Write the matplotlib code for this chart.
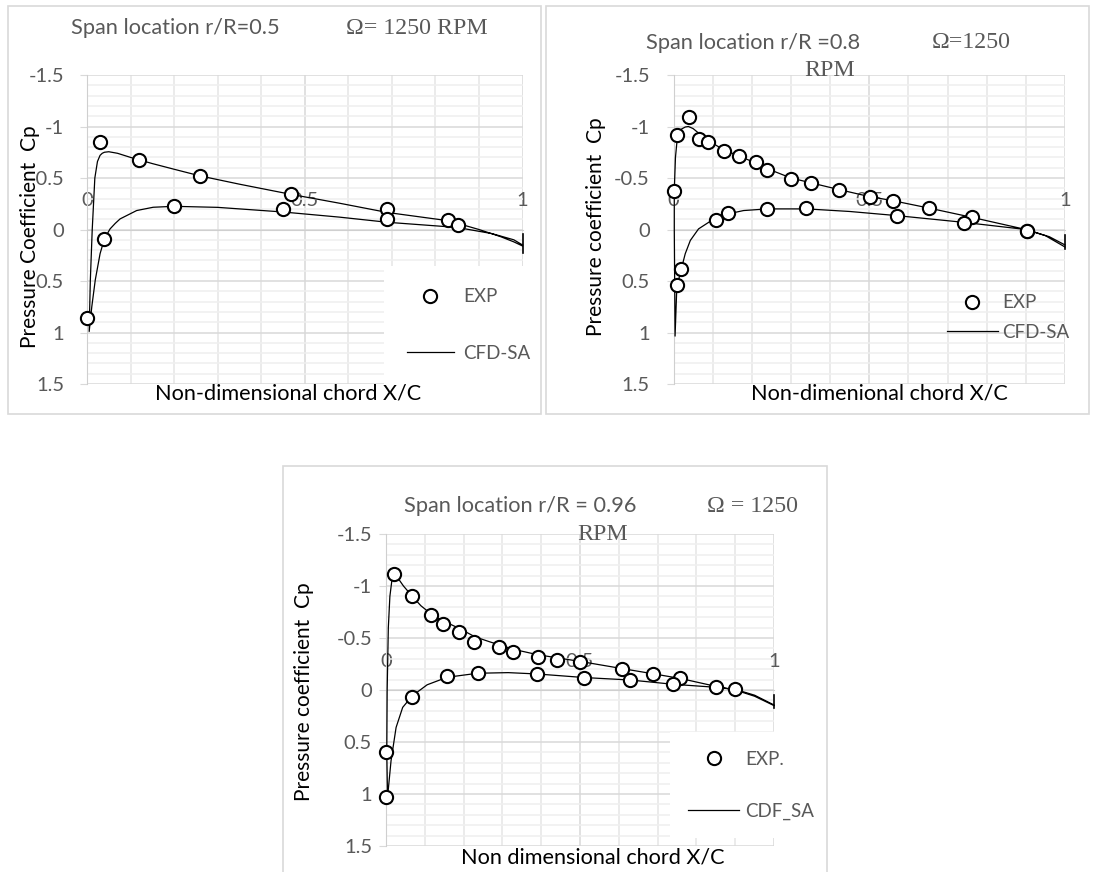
"""Cp ao longo da corda em três seções da pá (r/R = 0.5, 0.8, 0.96), EXP x CFD-SA."""

import matplotlib
matplotlib.use("Agg")
import matplotlib.pyplot as plt
from matplotlib.patches import Rectangle
from matplotlib.ticker import MultipleLocator, FuncFormatter

plt.rcParams["font.family"] = ["Lato", "DejaVu Sans"]
plt.rcParams["axes.unicode_minus"] = False

W, H = 1094, 872
GRAY = "#595959"

# --- r/R = 0.5 ---
exp1_x = [0.0, 0.030, 0.040, 0.119, 0.199, 0.259, 0.451, 0.469, 0.690, 0.690, 0.830, 0.851]
exp1_cp = [0.855, -0.852, 0.09, -0.674, -0.232, -0.521, -0.197, -0.34, -0.197, -0.10, -0.09, -0.039]
cfd1_up_x = [0.005, 0.0076, 0.012, 0.018, 0.024, 0.03, 0.035, 0.04, 0.05, 0.07, 0.1, 0.15, 0.2,
             0.26, 0.35, 0.47, 0.58, 0.69, 0.76, 0.83, 0.9, 0.95, 0.98, 1.0]
cfd1_up_cp = [0.99, 0.5, 0.0, -0.5, -0.66, -0.72, -0.74, -0.75, -0.755, -0.74, -0.70, -0.64, -0.585,
              -0.52, -0.44, -0.34, -0.255, -0.165, -0.125, -0.085, 0.0, 0.07, 0.12, 0.16]
cfd1_lo_x = [0.005, 0.011, 0.019, 0.03, 0.04, 0.053, 0.065, 0.076, 0.114, 0.152, 0.2, 0.3, 0.45,
             0.58, 0.69, 0.85, 0.93, 0.98, 1.0]
cfd1_lo_cp = [0.99, 0.75, 0.49, 0.235, 0.09, -0.006, -0.06, -0.103, -0.184, -0.216, -0.225, -0.215, -0.17,
              -0.12, -0.07, -0.02, 0.04, 0.1, 0.15]
te1_cp = [0.04, 0.23]

# --- r/R = 0.8 ---
exp2_x = [0.0, 0.0085, 0.039, 0.066, 0.089, 0.128, 0.168, 0.21, 0.238, 0.30, 0.35, 0.422, 0.501,
          0.561, 0.652, 0.762, 0.904,
          0.0085, 0.019, 0.109, 0.139, 0.238, 0.339, 0.571, 0.742, 0.904]
exp2_cp = [-0.377, -0.916, -1.097, -0.877, -0.852, -0.765, -0.716, -0.652, -0.581, -0.489, -0.456, -0.388, -0.317,
           -0.275, -0.204, -0.117, 0.013,
           0.542, 0.381, -0.094, -0.165, -0.2, -0.204, -0.133, -0.065, 0.016]
cfd2_up_x = [0.004, 0.003, 0.002, 0.002, 0.005, 0.01, 0.018, 0.03, 0.038, 0.05, 0.066, 0.09, 0.13, 0.17,
             0.21, 0.24, 0.3, 0.42, 0.5, 0.56, 0.65, 0.76, 0.9, 0.95, 1.0]
cfd2_up_cp = [1.035, 0.5, 0.0, -0.38, -0.7, -0.9, -0.97, -0.995, -1.0, -0.98, -0.93, -0.86, -0.77, -0.71,
              -0.645, -0.59, -0.5, -0.39, -0.32, -0.28, -0.21, -0.12, 0.0, 0.06, 0.17]
cfd2_lo_x = [0.004, 0.0085, 0.019, 0.03, 0.043, 0.064, 0.094, 0.111, 0.14, 0.179, 0.24, 0.34, 0.45,
             0.57, 0.74, 0.9, 0.96, 1.0]
cfd2_lo_cp = [1.035, 0.558, 0.397, 0.235, 0.106, -0.006, -0.08, -0.103, -0.152, -0.184, -0.2, -0.2, -0.175,
              -0.135, -0.07, 0.0, 0.07, 0.15]
te2_cp = [0.055, 0.185]

# --- r/R = 0.96 ---
exp3_x = [0.02, 0.068, 0.117, 0.146, 0.187, 0.227, 0.29, 0.328, 0.391, 0.441, 0.50, 0.607, 0.689,
          0.759, 0.851, 0.90,
          0.0, 0.0, 0.068, 0.157, 0.236, 0.39, 0.51, 0.629, 0.74]
exp3_cp = [-1.113, -0.907, -0.717, -0.637, -0.556, -0.46, -0.41, -0.369, -0.314, -0.288, -0.266, -0.202, -0.151,
           -0.112, -0.026, -0.006,
           0.592, 1.03, 0.064, -0.132, -0.161, -0.151, -0.119, -0.096, -0.054]
cfd3_up_x = [0.004, 0.002, 0.003, 0.006, 0.01, 0.015, 0.022, 0.03, 0.045, 0.068, 0.09, 0.12, 0.15, 0.19,
             0.23, 0.27, 0.33, 0.39, 0.44, 0.5, 0.61, 0.69, 0.76, 0.85, 0.9, 0.95, 1.0]
cfd3_up_cp = [1.03, 0.6, 0.0, -0.6, -0.9, -1.05, -1.1, -1.08, -1.0, -0.9, -0.81, -0.72, -0.66, -0.59,
              -0.51, -0.46, -0.39, -0.34, -0.31, -0.275, -0.205, -0.155, -0.11, -0.035, 0.0, 0.06, 0.15]
cfd3_lo_x = [0.004, 0.013, 0.026, 0.043, 0.068, 0.106, 0.157, 0.236, 0.315, 0.39, 0.51, 0.63, 0.74,
             0.85, 0.9, 0.95, 1.0]
cfd3_lo_cp = [1.03, 0.68, 0.36, 0.167, 0.055, -0.05, -0.122, -0.161, -0.167, -0.154, -0.12, -0.096, -0.055,
              -0.026, -0.006, 0.05, 0.144]
te3_cp = [0.048, 0.176]

cp_ticks = [-1.5, -1, -0.5, 0, 0.5, 1, 1.5]


def fx(px):
    return px / W


def fy(py):
    return 1 - py / H


def make_axes(fig, left, top, right, bottom):
    # retângulo em pixels da imagem -> fração da figura
    return fig.add_axes([fx(left), fy(bottom), (right - left) / W, (bottom - top) / H])


def style_axes(ax, ypad):
    ax.set_xlim(0, 1)
    ax.set_ylim(1.5, -1.5)  # Cp negativo pra cima
    ax.xaxis.set_major_locator(MultipleLocator(0.5))
    ax.xaxis.set_minor_locator(MultipleLocator(0.1))
    ax.set_yticks(cp_ticks)
    ax.yaxis.set_minor_locator(MultipleLocator(0.1))
    ax.yaxis.set_major_formatter(FuncFormatter(lambda v, _: f"{v:g}"))
    ax.xaxis.set_major_formatter(FuncFormatter(lambda v, _: f"{v:g}"))
    ax.grid(which="major", color="#d9d9d9", lw=1.1)
    ax.grid(which="minor", axis="y", color="#efefef", lw=1.1)
    ax.grid(which="minor", axis="x", color="#e6e6e6", lw=1.1)
    ax.set_axisbelow(True)
    for s in ("top", "right"):
        ax.spines[s].set_visible(False)
    ax.spines["left"].set_color("#cfcfcf")
    ax.spines["bottom"].set_color("#cfcfcf")
    ax.spines["bottom"].set_position(("data", 0))
    ax.tick_params(axis="y", which="major", length=5, color="#d9d9d9", labelcolor=GRAY,
                   labelsize=14.5, pad=ypad)
    ax.tick_params(axis="both", which="minor", length=0)
    # rótulos do eixo x ficam acima da linha Cp=0, como no Excel
    ax.tick_params(axis="x", which="major", length=0, labelcolor=GRAY, labelsize=14.5, pad=-27)


def draw_panel(ax, exp_x, exp_cp, up_x, up_cp, lo_x, lo_cp, te_cp, exp_label, cfd_label):
    cfd, = ax.plot(lo_x[::-1] + up_x, lo_cp[::-1] + up_cp, color="black", lw=0.9,
                   label=cfd_label, zorder=3, clip_on=False)
    ax.plot([1.0, 1.0], te_cp, color="black", lw=1.2, zorder=3, clip_on=False)
    exp, = ax.plot(exp_x, exp_cp, "o", ms=9.5, mfc="white", mec="black", mew=1.5,
                   ls="none", label=exp_label, zorder=4, clip_on=False)
    return exp, cfd


fig = plt.figure(figsize=(W / 100, H / 100), dpi=100)

# molduras dos três gráficos (cinza claro)
for l, t, r, b in [(8, 6, 541, 414), (546, 6, 1089, 414), (283, 466, 827, 880)]:
    fig.patches.append(Rectangle((fx(l), fy(b)), (r - l) / W, (b - t) / H, transform=fig.transFigure,
                                 fill=False, edgecolor="#d9d9d9", lw=1.2, zorder=5))

# painel 1
ax1 = make_axes(fig, 87, 75, 522.5, 384)
style_axes(ax1, 11.5)
h = draw_panel(ax1, exp1_x, exp1_cp, cfd1_up_x, cfd1_up_cp, cfd1_lo_x, cfd1_lo_cp, te1_cp, "EXP", "CFD-SA")
ax1.legend(handles=h, loc="upper left", bbox_to_anchor=(fx(384), fy(266)), bbox_transform=fig.transFigure,
           frameon=True, facecolor="white", edgecolor="none", framealpha=1, fancybox=False,
           fontsize=13.5, labelcolor=GRAY, handlelength=2.55, handletextpad=0.48, labelspacing=2.1,
           borderpad=1.2, borderaxespad=0)
fig.text(fx(175.5), fy(28), "Span location r/R=0.5", ha="center", va="center", fontsize=15.7, color=GRAY)
fig.text(fx(346), fy(28), "Ω= 1250 RPM", ha="left", va="center", fontsize=17.2, color=GRAY,
         family="Liberation Serif")
fig.text(fx(30), fy(237), "Pressure Coefficient  Cp", rotation=90, ha="center", va="center", fontsize=15)
fig.text(fx(288.5), fy(393), "Non-dimensional chord X/C", ha="center", va="center", fontsize=15.6)

# painel 2
ax2 = make_axes(fig, 673.5, 75, 1065, 384)
style_axes(ax2, 12)
h = draw_panel(ax2, exp2_x, exp2_cp, cfd2_up_x, cfd2_up_cp, cfd2_lo_x, cfd2_lo_cp, te2_cp, "EXP", "CFD-SA")
ax2.legend(handles=h, loc="upper left", bbox_to_anchor=(fx(937.5), fy(285)), bbox_transform=fig.transFigure,
           frameon=False, fontsize=13.5, labelcolor=GRAY, handlelength=2.7, handletextpad=0.27,
           labelspacing=0.65, borderpad=0.5, borderaxespad=0)
fig.text(fx(645.8), fy(43), "Span location r/R =0.8", ha="left", va="center", fontsize=15.7, color=GRAY)
fig.text(fx(932), fy(43), "Ω=1250", ha="left", va="center", fontsize=17.2, color=GRAY,
         family="Liberation Serif")
fig.text(fx(804), fy(71), "RPM", ha="left", va="center", fontsize=17.2, color=GRAY, family="Liberation Serif")
fig.text(fx(596), fy(227), "Pressure coefficient  Cp", rotation=90, ha="center", va="center", fontsize=15)
fig.text(fx(879), fy(393), "Non-dimenional chord X/C", ha="center", va="center", fontsize=15.6)

# painel 3
ax3 = make_axes(fig, 386, 534, 774, 846)
style_axes(ax3, 5)
h = draw_panel(ax3, exp3_x, exp3_cp, cfd3_up_x, cfd3_up_cp, cfd3_lo_x, cfd3_lo_cp, te3_cp, "EXP.", "CDF_SA")
ax3.legend(handles=h, loc="upper left", bbox_to_anchor=(fx(669.5), fy(732)), bbox_transform=fig.transFigure,
           frameon=True, facecolor="white", edgecolor="none", framealpha=1, fancybox=False,
           fontsize=13.5, labelcolor=GRAY, handlelength=2.7, handletextpad=0.36, labelspacing=1.85,
           borderpad=1.0, borderaxespad=0)
fig.text(fx(403.6), fy(506), "Span location r/R = 0.96", ha="left", va="center", fontsize=15.7, color=GRAY)
fig.text(fx(707), fy(506), "Ω = 1250", ha="left", va="center", fontsize=17.2, color=GRAY,
         family="Liberation Serif")
fig.text(fx(577), fy(535), "RPM", ha="left", va="center", fontsize=17.2, color=GRAY, family="Liberation Serif")
fig.text(fx(304), fy(692), "Pressure coefficient  Cp", rotation=90, ha="center", va="center", fontsize=15)
fig.text(fx(593), fy(857), "Non dimensional chord X/C", ha="center", va="center", fontsize=15.6)

fig.savefig("out.png", dpi=100)
